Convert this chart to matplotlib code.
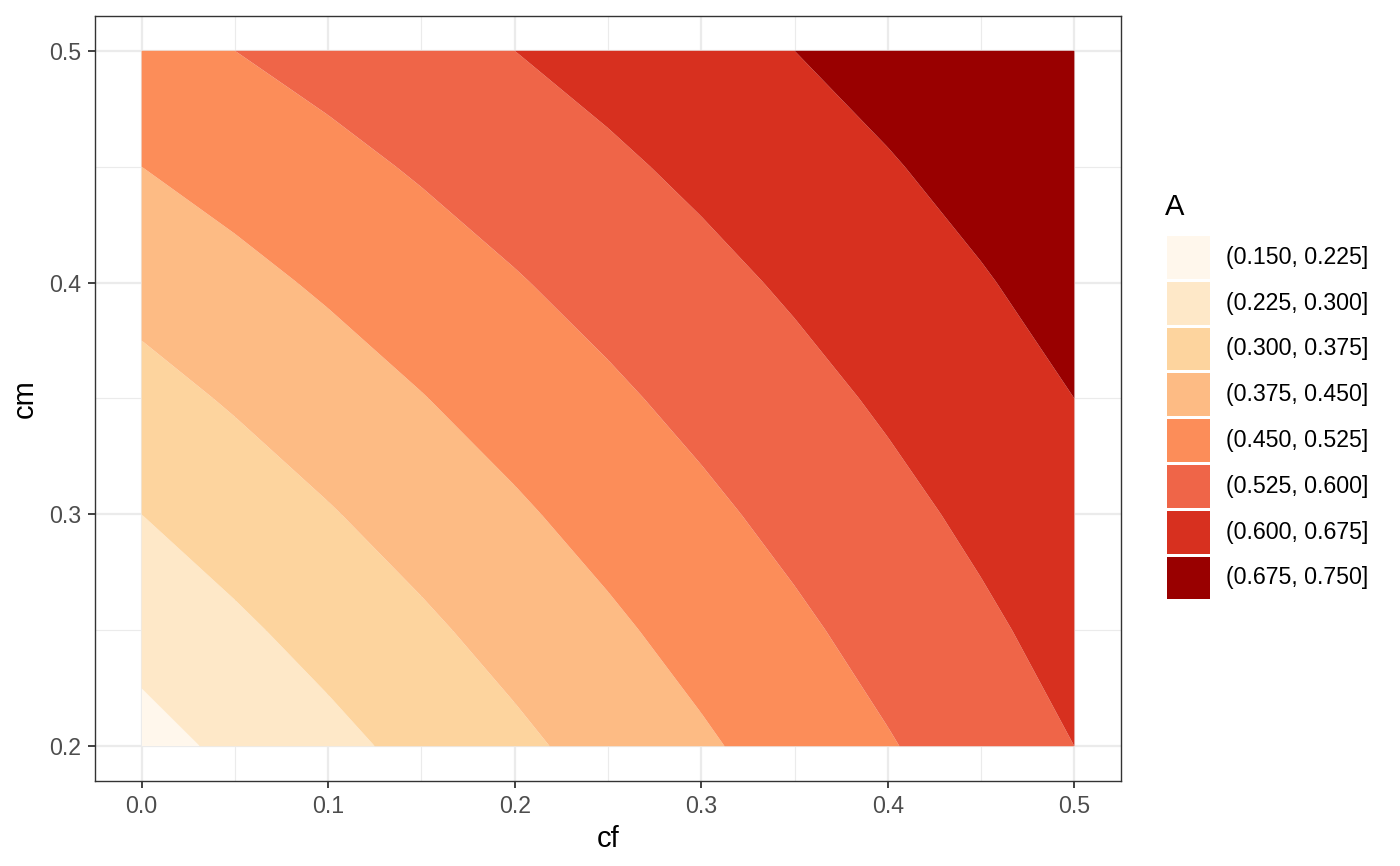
import numpy as np
import matplotlib.pyplot as plt
from matplotlib.patches import Rectangle
from matplotlib.ticker import MultipleLocator

plt.rcParams['font.family'] = ['Liberation Sans', 'DejaVu Sans']

# grid of the filled contour
cf = [0.0, 0.05, 0.1, 0.15, 0.2, 0.25, 0.3, 0.35, 0.4, 0.45, 0.5]
cm = [0.2, 0.25, 0.3, 0.35, 0.4, 0.45, 0.5]
A = [
    [0.200, 0.240, 0.280, 0.320, 0.360, 0.400, 0.440, 0.480, 0.520, 0.560, 0.600],
    [0.250, 0.2875, 0.325, 0.3625, 0.400, 0.4375, 0.475, 0.5125, 0.550, 0.5875, 0.625],
    [0.300, 0.335, 0.370, 0.405, 0.440, 0.475, 0.510, 0.545, 0.580, 0.615, 0.650],
    [0.350, 0.3825, 0.415, 0.4475, 0.480, 0.5125, 0.545, 0.5775, 0.610, 0.6425, 0.675],
    [0.400, 0.430, 0.460, 0.490, 0.520, 0.550, 0.580, 0.610, 0.640, 0.670, 0.700],
    [0.450, 0.4775, 0.505, 0.5325, 0.560, 0.5875, 0.615, 0.6425, 0.670, 0.6975, 0.725],
    [0.500, 0.525, 0.550, 0.575, 0.600, 0.625, 0.650, 0.675, 0.700, 0.725, 0.750],
]
levels = [0.150, 0.225, 0.300, 0.375, 0.450, 0.525, 0.600, 0.675, 0.750]
band_labels = ['(0.150, 0.225]', '(0.225, 0.300]', '(0.300, 0.375]', '(0.375, 0.450]',
               '(0.450, 0.525]', '(0.525, 0.600]', '(0.600, 0.675]', '(0.675, 0.750]']
band_colors = ['#FFF7EC', '#FEE8C8', '#FDD49E', '#FDBB84',
               '#FC8D59', '#EF6548', '#D7301F', '#990000']

fig = plt.figure(figsize=(14, 8.66), dpi=100)
ax = fig.add_axes([95 / 1400, 85 / 866, 1026 / 1400, 765 / 866])

ax.contourf(np.array(cf), np.array(cm), np.array(A), levels=levels,
            colors=band_colors, antialiased=True, zorder=2)

ax.set_xlim(-0.025, 0.525)
ax.set_ylim(0.2 - 0.015, 0.5 + 0.015)
ax.xaxis.set_minor_locator(MultipleLocator(0.05))
ax.yaxis.set_minor_locator(MultipleLocator(0.05))
ax.set_xticks([0.0, 0.1, 0.2, 0.3, 0.4, 0.5])
ax.set_xticklabels(['0.0', '0.1', '0.2', '0.3', '0.4', '0.5'])
ax.set_yticks([0.2, 0.3, 0.4, 0.5])
ax.set_yticklabels(['0.2', '0.3', '0.4', '0.5'])

ax.grid(which='major', color='#EBEBEB', linewidth=1.6, zorder=0)
ax.grid(which='minor', color='#EBEBEB', linewidth=0.8, zorder=0)
ax.set_axisbelow(True)
ax.tick_params(which='major', length=5.2, width=1.3, color='#333333',
               labelsize=16.7, labelcolor='#4D4D4D', pad=5)
ax.tick_params(which='minor', length=0)
for s in ax.spines.values():
    s.set_color('#333333')
    s.set_linewidth(1.0)

ax.set_xlabel('cf', fontsize=21, labelpad=5)
ax.set_ylabel('cm', fontsize=21, labelpad=7)

# legend
fig.text(1165 / 1400, 1 - 207 / 866, 'A', fontsize=21, va='center', ha='left')
lax = fig.add_axes([0, 0, 1, 1])
lax.set_xlim(0, 1400)
lax.set_ylim(866, 0)
lax.axis('off')
key_top = 236
key_step = 45.8
for i, (lab, col) in enumerate(zip(band_labels, band_colors)):
    y0 = key_top + i * key_step
    lax.add_patch(Rectangle((1167, y0), 43, key_step - 3, facecolor=col, edgecolor='none'))
    lax.text(1226, y0 + (key_step - 3) / 2, lab, fontsize=16.7, va='center', ha='left')

fig.savefig('out.png', dpi=100)
